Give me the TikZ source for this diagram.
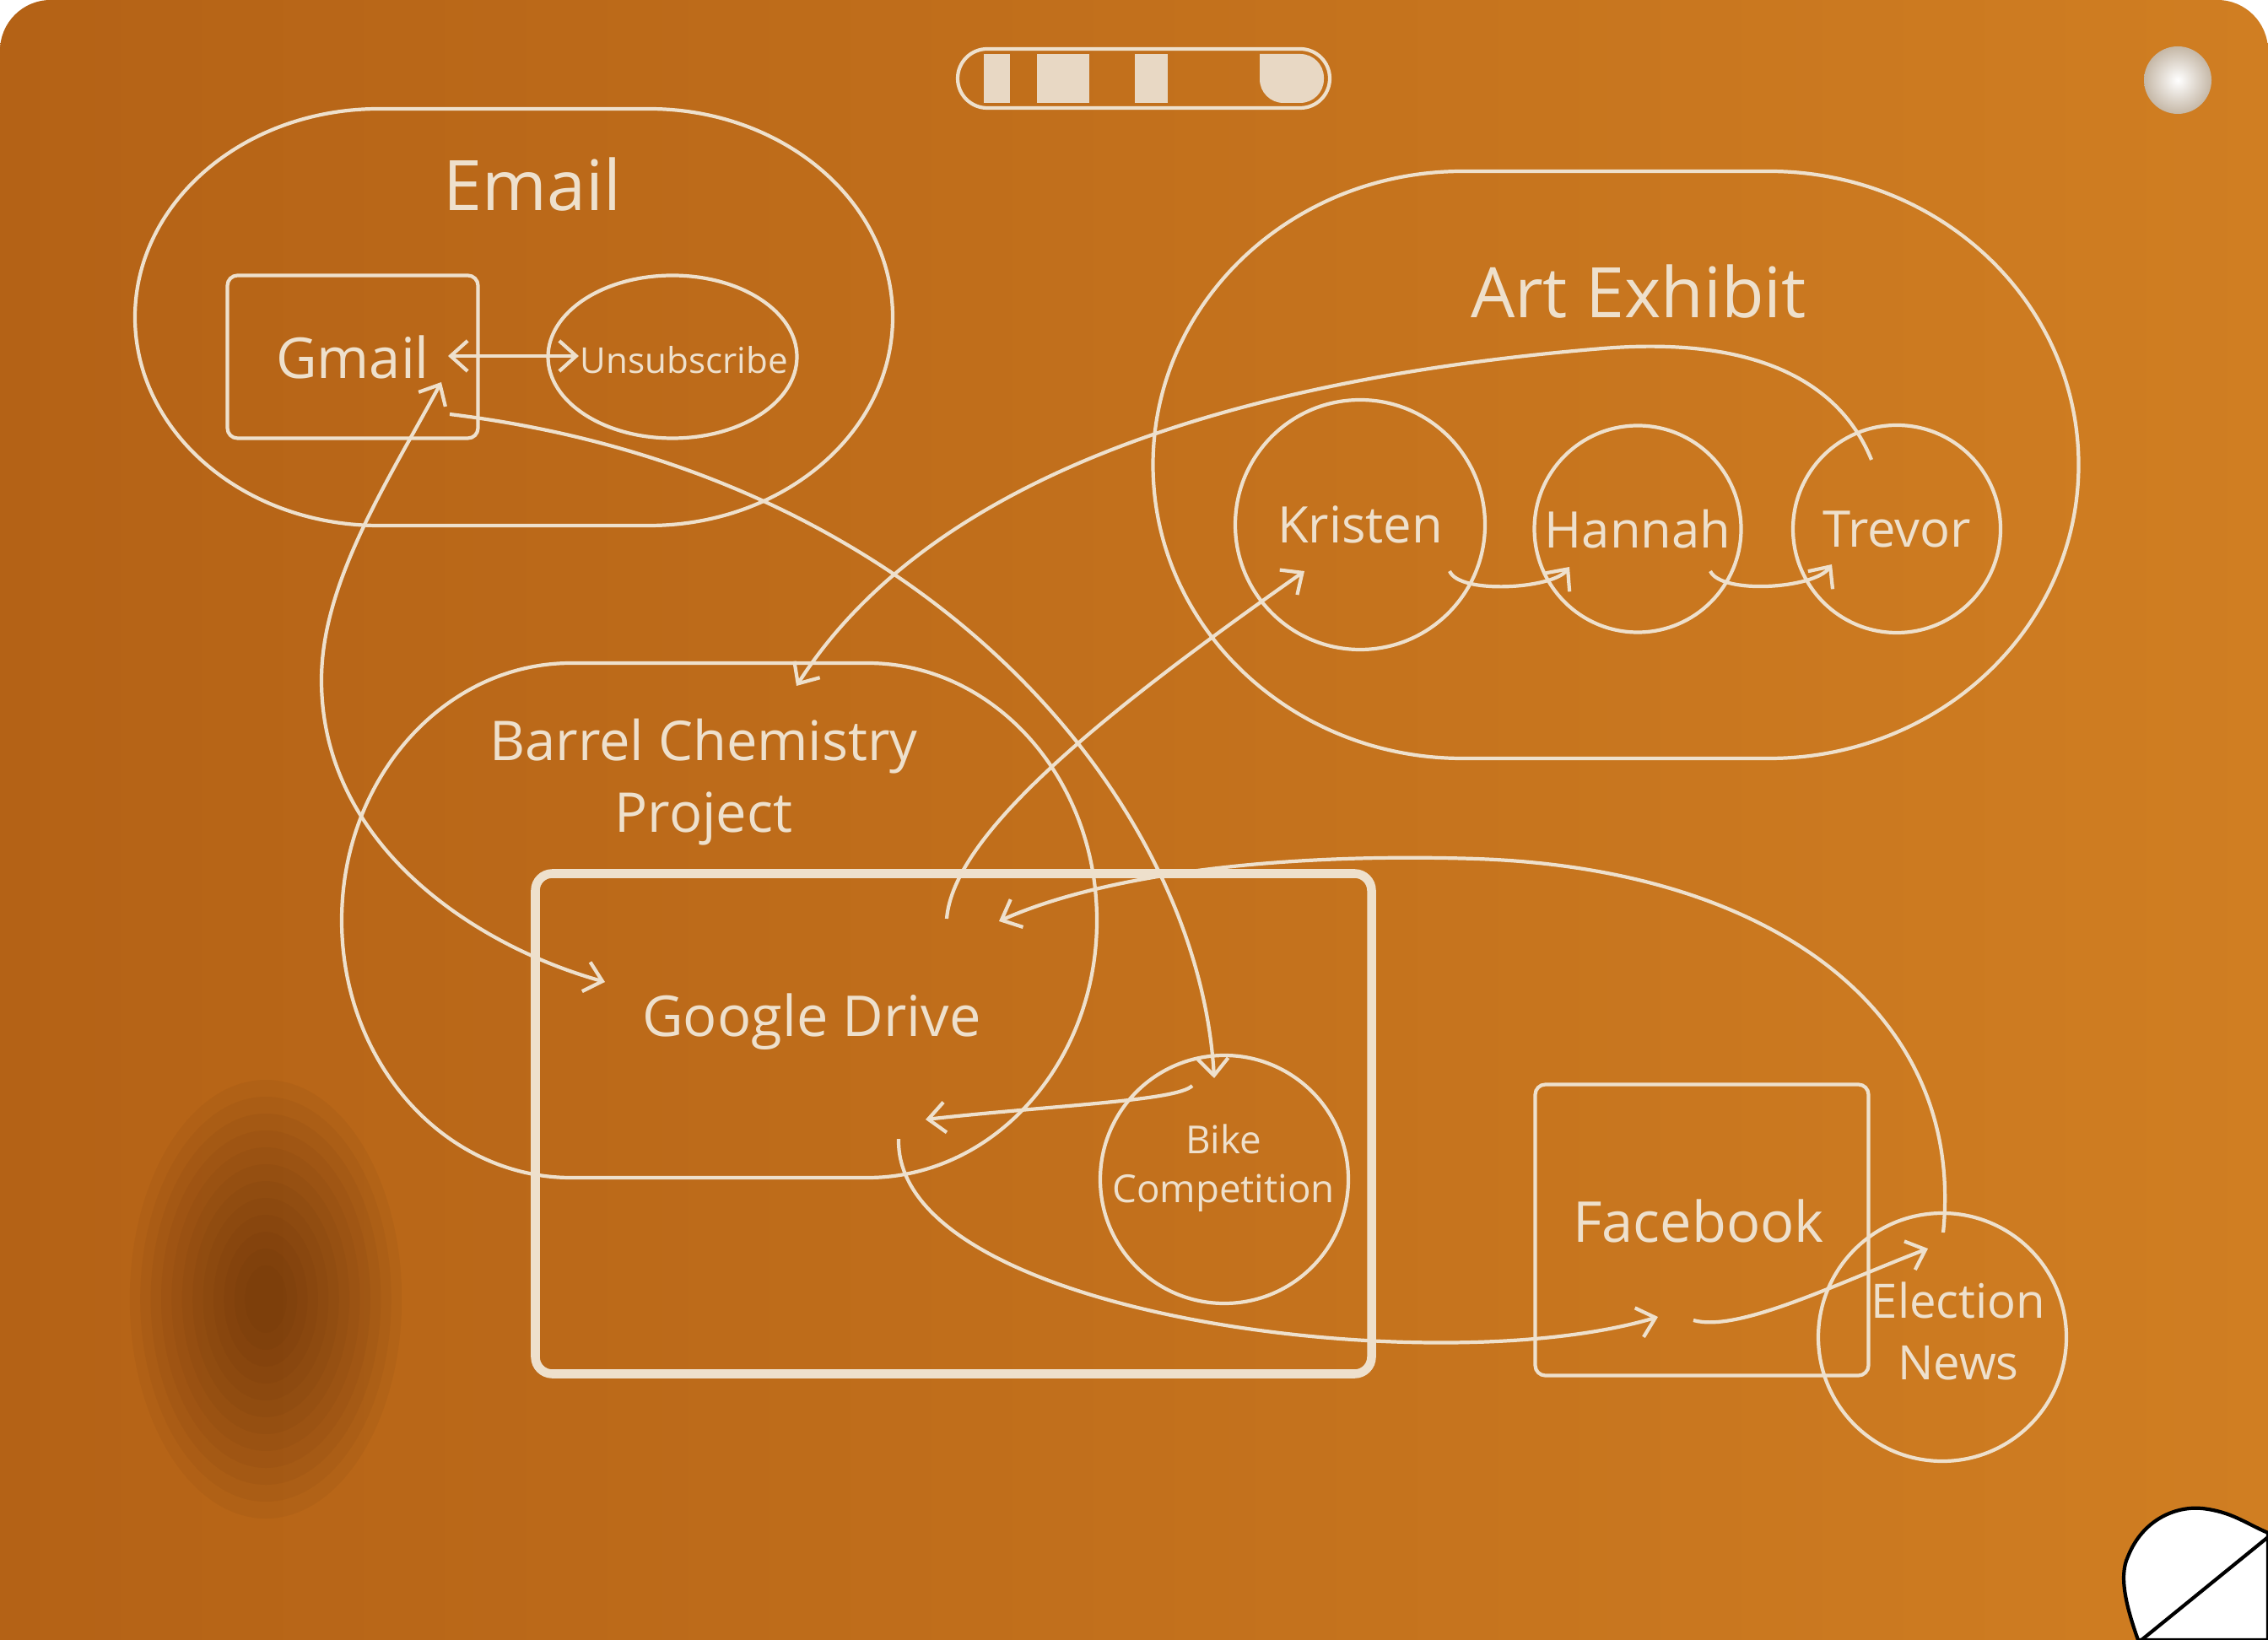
\documentclass[tikz,border=0pt]{standalone}
\usepackage{fontspec}
\setmainfont{Open Sans}
\usepackage{tikz}
\usetikzlibrary{shapes,arrows,positioning,calc,arrows.meta}

\definecolor{wood}{RGB}{208,126,34}
\definecolor{wooddark}{RGB}{180,98,22}
\definecolor{knot}{RGB}{80,35,8}
\definecolor{ink}{RGB}{238,224,204}
\definecolor{stripe}{RGB}{232,216,196}

\tikzset{
  line/.style={draw=ink, line width=1.2pt},
  box/.style={line, rectangle, rounded corners=0.12cm, inner sep=0pt, text=ink},
  oval/.style={line, ellipse, inner sep=0pt},
  person/.style={line, circle, inner sep=0pt, text=ink, align=center},
  arr/.style={draw=ink, line width=1.2pt, -{Straight Barb[length=2mm,width=3.6mm]}},
  arrs/.style={draw=ink, line width=1.2pt, {Straight Barb[length=2mm,width=3.6mm]}-{Straight Barb[length=2mm,width=3.6mm]}},
  ttl/.style={text=ink, font=\fontsize{23.5}{28}\selectfont},
  lbl/.style={text=ink, font=\fontsize{19}{24}\selectfont, align=center},
  nme/.style={text=ink, font=\fontsize{17}{21}\selectfont, align=center},
  sml/.style={text=ink, font=\fontsize{12}{16.5}\selectfont, align=center}
}

\begin{document}
\begin{tikzpicture}[x=1cm, y=-1cm]
    \useasboundingbox (0,0) rectangle (26.88,19.44);
    % Board
    \fill[white] (0,0) rectangle (26.88,19.44);
    \shade[left color=wooddark, right color=wood, rounded corners=0.6cm] (0,0) rectangle (26.88,10);
    \shade[left color=wooddark, right color=wood] (0,5) rectangle (26.88,19.44);
    \foreach \r in {2.6,2.4,...,0.2}
        \fill[knot, opacity=0.06] (3.15,15.4) ellipse ({\r*0.62} and \r);

    % Slider and button
    \draw[line, rounded corners=0.35cm] (11.35,0.58) rectangle (15.76,1.28);
    \fill[stripe] (11.66,0.64) rectangle (11.97,1.22);
    \fill[stripe] (12.29,0.64) rectangle (12.91,1.22);
    \fill[stripe] (13.45,0.64) rectangle (13.84,1.22);
    \fill[stripe, rounded corners=0.28cm] (14.93,0.64) -- (15.69,0.64) -- (15.69,1.22) -- (14.93,1.22) [sharp corners] -- cycle;
    \shade[inner color=white, outer color=stripe!85!black] (25.81,0.95) circle (0.40);

    % Groups
    \draw[line] (4.49,1.29) -- (7.69,1.29) arc[start angle=-90, end angle=90, x radius=2.89, y radius=2.47]
        -- (4.49,6.23) arc[start angle=90, end angle=270, x radius=2.89, y radius=2.47] -- cycle; % Email
    \draw[line] (17.335,2.03) -- (20.965,2.03) arc[start angle=-90, end angle=90, x radius=3.67, y radius=3.48]
        -- (17.335,8.99) arc[start angle=90, end angle=270, x radius=3.67, y radius=3.48] -- cycle; % Art Exhibit
    \draw[line] (6.77,7.86) -- (10.28,7.86) arc[start angle=-90, end angle=90, x radius=2.72, y radius=3.05]
        -- (6.77,13.96) arc[start angle=90, end angle=270, x radius=2.72, y radius=3.05] -- cycle; % Barrel
    \node[ttl] (emailtxt) at (6.31,2.19) {Email};
    \node[ttl] (arttxt) at (19.42,3.46) {Art Exhibit};
    \node[lbl, font=\fontsize{18.5}{24}\selectfont] (barreltxt) at (8.34,9.27) {Barrel Chemistry\\Project};

    % Items
    \node[box, lbl, minimum width=2.97cm, minimum height=1.93cm] (gmail) at (4.18,4.23) {Gmail};
    \node[oval, minimum width=2.95cm, minimum height=1.93cm] (unsub) at (7.97,4.23) {};
    \node[sml] (unsubtxt) at (8.11,4.27) {Unsubscribe};
    \node[box, line width=3pt, rounded corners=0.2cm, minimum width=9.91cm, minimum height=5.93cm] (drive) at (11.30,13.32) {};
    \node[lbl] (drivetxt) at (9.62,12.11) {Google Drive};
    \node[person, nme, minimum size=2.96cm] (kristen) at (16.12,6.22) {Kristen};
    \node[person, nme, minimum size=2.45cm] (hannah) at (19.41,6.27) {Hannah};
    \node[person, nme, minimum size=2.46cm] (trevor) at (22.48,6.27) {Trevor};
    \node[person, minimum size=2.94cm] (bike) at (14.51,13.98) {};
    \node[sml, font=\fontsize{13}{16.5}\selectfont] (biketxt) at (14.50,13.85) {Bike\\Competition};
    \node[box, minimum width=3.95cm, minimum height=3.45cm] (facebook) at (20.17,14.58) {};
    \node[lbl] (facebooktxt) at (20.13,14.47) {Facebook};
    \node[person, minimum size=2.94cm] (election) at (23.02,15.85) {};
    \node[nme, font=\fontsize{16}{21}\selectfont] (electiontxt) at (23.21,15.78) {Election\\News};

    % Connector ends
    \coordinate (gmA) at (5.31,4.22);
    \coordinate (unA) at (6.86,4.22);
    \coordinate (gmB) at (5.33,4.91);
    \coordinate (bkA) at (14.39,12.78);
    \coordinate (gmC) at (5.23,4.53);
    \coordinate (gdA) at (7.17,11.64);
    \coordinate (trA) at (22.18,5.45);
    \coordinate (bcA) at (9.44,8.13);
    \coordinate (gdB) at (11.22,10.89);
    \coordinate (krA) at (15.46,6.77);
    \coordinate (bkB) at (14.13,12.87);
    \coordinate (gdC) at (10.97,13.27);
    \coordinate (gdD) at (10.65,13.50);
    \coordinate (fbA) at (19.65,15.61);
    \coordinate (fbB) at (20.07,15.65);
    \coordinate (enA) at (22.85,14.80);
    \coordinate (enB) at (23.03,14.61);
    \coordinate (gdE) at (11.84,10.92);
    \coordinate (krB) at (17.18,6.77);
    \coordinate (haA) at (18.60,6.72);
    \coordinate (haB) at (20.27,6.77);
    \coordinate (trB) at (21.71,6.69);

    % Connectors
    \draw[arrs] (gmA) -- (unA);
    \draw[arr] (gmB) .. controls (11.0,5.6) and (14.2,9.5) .. (bkA);
    \draw[arrs] (gmC) .. controls (4.6,5.7) and (3.81,6.9) .. (3.81,8.06) .. controls (3.81,10.0) and (5.6,11.2) .. (gdA);
    \draw[arr] (trA) .. controls (21.75,4.4) and (20.6,4.0) .. (19.0,4.13) .. controls (14.5,4.5) and (11.0,5.7) .. (bcA);
    \draw[arr] (gdB) .. controls (11.30,9.9) and (13.0,8.5) .. (krA);
    \draw[arr] (bkB) .. controls (13.95,13.05) and (12.5,13.1) .. (gdC);
    \draw[arr] (gdD) .. controls (10.60,15.60) and (17.0,16.40) .. (fbA);
    \draw[arr] (fbB) .. controls (20.6,15.8) and (21.8,15.2) .. (enA);
    \draw[arr] (enB) .. controls (23.3,12.0) and (21.0,10.30) .. (17.5,10.18) .. controls (15.0,10.10) and (13.0,10.40) .. (gdE);
    \draw[arr] (krB) .. controls (17.3,7.05) and (18.4,6.98) .. (haA);
    \draw[arr] (haB) .. controls (20.4,7.05) and (21.5,6.98) .. (trB);

    % Page curl
    \filldraw[fill=white, draw=black, line width=1.2pt] (25.34,19.44) .. controls (25.22,19.1) and (25.1,18.7) .. (25.22,18.45) .. controls (25.4,18.0) and (25.8,17.85) .. (26.1,17.88) .. controls (26.45,17.92) and (26.6,18.05) .. (26.88,18.17) -- (26.88,19.44) -- cycle;
    \draw[black, line width=1.2pt] (25.38,19.44) -- (26.88,18.22);
\end{tikzpicture}
\end{document}
